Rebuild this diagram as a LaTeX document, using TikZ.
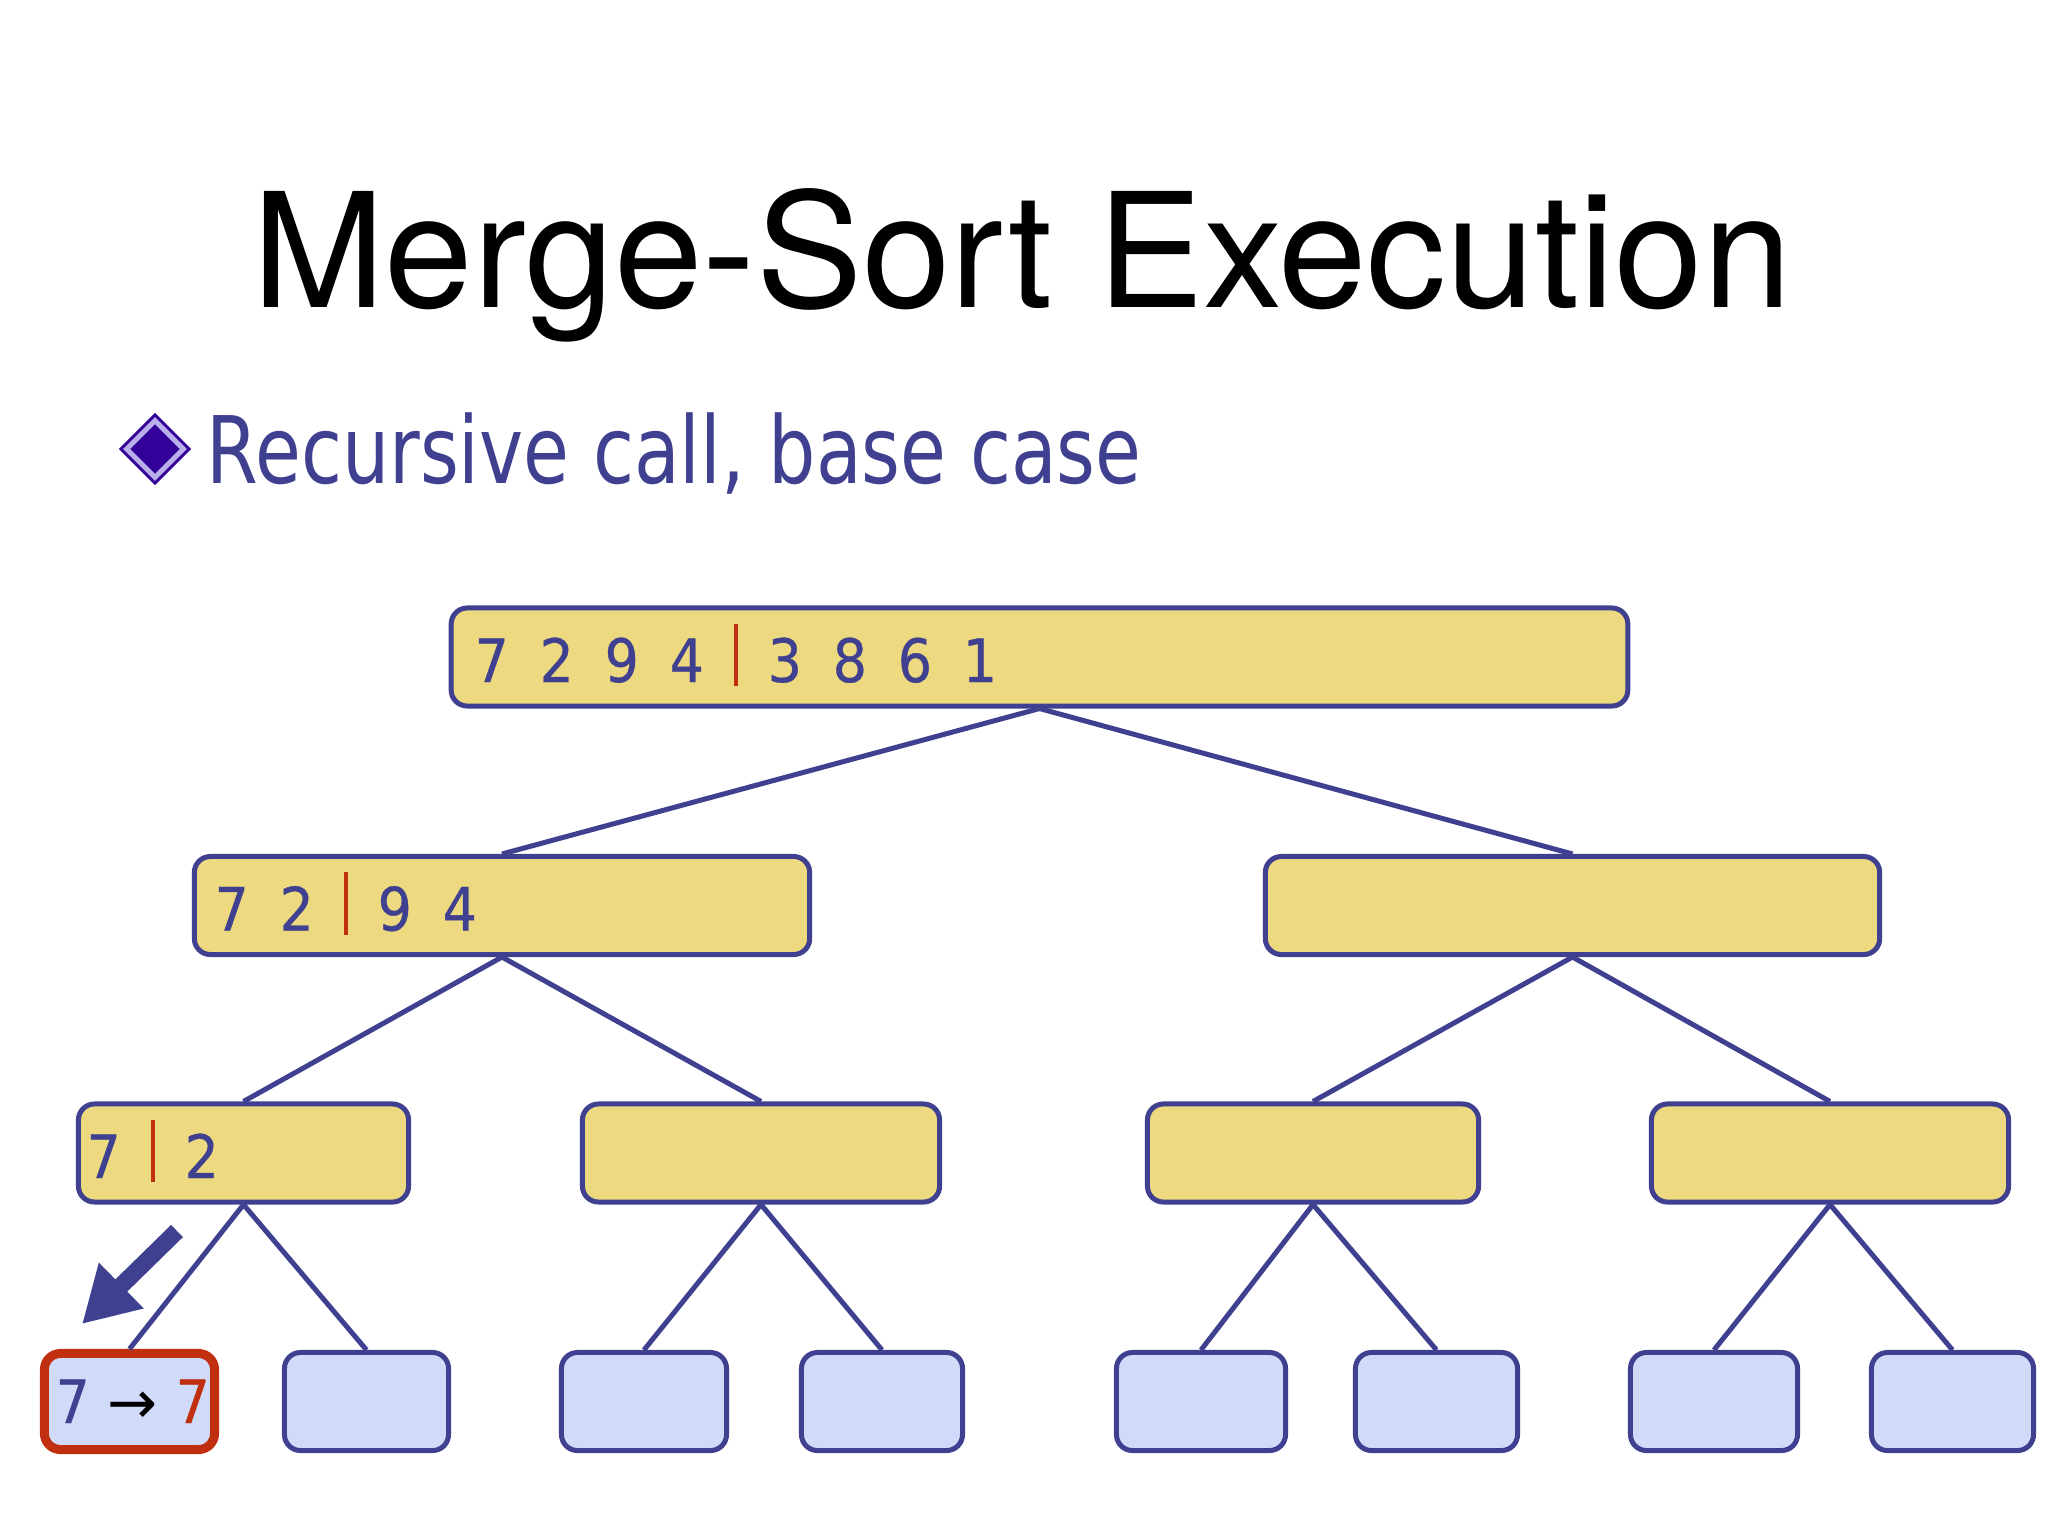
\documentclass[tikz,border=0pt]{standalone}
\usepackage{fontspec}
\setmainfont{TeX Gyre Heros}
\newfontfamily\verdfont[FakeStretch=0.8]{DejaVu Sans}
\newfontfamily\digitfont[FakeStretch=0.9, FakeBold=0.6]{DejaVu Sans}
\newfontfamily\arrowfont{DejaVu Sans}
\usetikzlibrary{arrows.meta,shapes.geometric}
\definecolor{lineblue}{RGB}{64,64,144}
\definecolor{boxyellow}{RGB}{236,217,128}
\definecolor{leafblue}{RGB}{208,219,250}
\definecolor{cutred}{RGB}{192,48,16}
\definecolor{bulletc}{RGB}{51,0,153}
\definecolor{bulletlight}{RGB}{185,175,235}
\newcommand\dg[1]{\makebox[0.65cm]{#1}}
\newcommand\cut{\makebox[0.33cm]{\textcolor{cutred}{\rule[-0.04cm]{0.04cm}{0.62cm}}}}
\begin{document}
\begin{tikzpicture}[x=0.01cm, y=-0.01cm]
  \tikzstyle{half} = [draw=lineblue, fill=boxyellow, rounded corners=0.16cm, line width=0.05cm, minimum height=0.98cm, inner sep=0pt]
  \tikzstyle{leaf} = [draw=lineblue, fill=leafblue, rounded corners=0.16cm, line width=0.05cm, minimum height=0.98cm, inner sep=0pt]
  \tikzstyle{nums} = [anchor=base west, inner sep=0pt, text=lineblue, font=\digitfont\fontsize{17pt}{20pt}\selectfont]
  \tikzstyle{link} = [draw=lineblue, line width=0.05cm]
  \useasboundingbox (0,0) rectangle (2048,1536);
  % heading
  \node[anchor=base, inner sep=0pt, font=\fontsize{45.3pt}{54pt}\selectfont] (title) at (1022,307) {Merge-Sort Execution};
  \node[diamond, aspect=1, minimum size=0.58cm, inner sep=0pt, fill=bulletc, draw=bulletc, double=bulletlight, double distance=0.05cm, line width=0.03cm] (bul) at (155,449) {};
  \node[anchor=base west, inner sep=0pt, text=lineblue, font=\verdfont\fontsize{26.5pt}{30pt}\selectfont] (point) at (206,483) {Recursive call, base case};
  % tree
  \node[half, minimum width=11.76cm] (all) at (1039.5,657) {};
  \node[half, minimum width=6.15cm] (left) at (502,905.5) {};
  \node[half, minimum width=6.14cm] (right) at (1572.5,905.5) {};
  \node[half, minimum width=3.30cm] (ll) at (243.5,1153) {};
  \node[half, minimum width=3.57cm] (lr) at (761,1153) {};
  \node[half, minimum width=3.31cm] (rl) at (1313,1153) {};
  \node[half, minimum width=3.57cm] (rr) at (1830,1153) {};
  \node[leaf, minimum width=1.70cm, minimum height=0.96cm, draw=cutred, line width=0.09cm] (lll) at (129.5,1401.5) {};
  \node[leaf, minimum width=1.64cm] (llr) at (366.5,1401.5) {};
  \node[leaf, minimum width=1.65cm] (lrl) at (644,1401.5) {};
  \node[leaf, minimum width=1.61cm] (lrr) at (882,1401.5) {};
  \node[leaf, minimum width=1.69cm] (rll) at (1201,1401.5) {};
  \node[leaf, minimum width=1.62cm] (rlr) at (1436.5,1401.5) {};
  \node[leaf, minimum width=1.67cm] (rrl) at (1714,1401.5) {};
  \node[leaf, minimum width=1.62cm] (rrr) at (1952.5,1401.5) {};
  \foreach \p/\c in {all/left, all/right, left/ll, left/lr, right/rl, right/rr,
      ll/lll, ll/llr, lr/lrl, lr/lrr, rl/rll, rl/rlr, rr/rrl, rr/rrr}
    \draw[link] (\p.south) -- (\c.north);
  % contents
  \node[nums] (nall) at (458.5,682) {\dg{7}\dg{2}\dg{9}\dg{4}\cut\dg{3}\dg{8}\dg{6}\dg{1}};
  \node[nums] (nleft) at (198.5,930.5) {\dg{7}\dg{2}\cut\dg{9}\dg{4}};
  \node[nums] (nll) at (70.5,1178) {\dg{7}\cut\dg{2}};
  \node[nums] (nlll) at (42,1423) {\makebox[0.6cm]{7}\makebox[0.6cm]{\arrowfont\textcolor{black}{→}}\makebox[0.6cm]{\textcolor{cutred}{7}}};
  % call marker
  \coordinate (hintA) at (177,1231);
  \coordinate (hintB) at (82,1324);
  \draw[-{Triangle[length=0.55cm, width=0.6cm]}, draw=lineblue, fill=lineblue, line width=0.17cm] (hintA) -- (hintB);
\end{tikzpicture}
\end{document}
